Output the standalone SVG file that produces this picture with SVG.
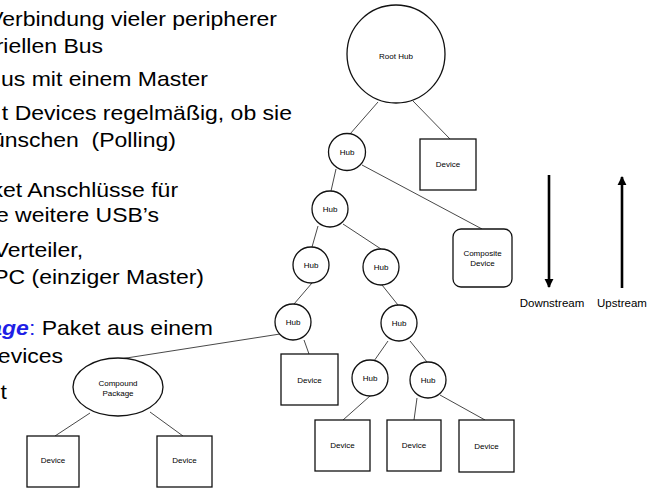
<svg xmlns="http://www.w3.org/2000/svg" width="664" height="488" viewBox="0 0 664 488">
<defs>
<style>
.bt{font-family:"Liberation Sans",Arial,sans-serif;font-size:20px;fill:#000;text-anchor:end}
.bl{fill:#1f1fe6;font-weight:bold;font-style:italic}
.n{fill:#fff;stroke:#111;stroke-width:1.3}
.lb{font-family:"Liberation Sans",Arial,sans-serif;font-size:8px;fill:#000;text-anchor:middle}
.c line{stroke:#333;stroke-width:0.9}
.ar{stroke:#000;stroke-width:2.6}
.al{font-family:"Liberation Sans",Arial,sans-serif;font-size:11.5px;fill:#000;text-anchor:middle}
</style>
<marker id="ah" viewBox="0 0 10 10" refX="9" refY="5" markerWidth="3.4" markerHeight="3.6" orient="auto" markerUnits="strokeWidth">
<path d="M0,0 L10,5 L0,10 Z" fill="#000"/>
</marker>
</defs>
<rect width="664" height="488" fill="#fff"/>
<g id="bullets" transform="scale(1.15,1)">
<text class="bt" x="240.9" y="26">Verbindung vieler peripherer</text>
<text class="bt" x="89.6" y="53">riellen Bus</text>
<text class="bt" x="180.9" y="86">us mit einem Master</text>
<text class="bt" x="253.9" y="120">t Devices regelmäßig, ob sie</text>
<text class="bt" x="153" y="147" xml:space="preserve">ünschen  (Polling)</text>
<text class="bt" x="154.8" y="197">ket Anschlüsse für</text>
<text class="bt" x="138.3" y="222">e weitere USB’s</text>
<text class="bt" x="72.2" y="257">Verteiler,</text>
<text class="bt" x="177.4" y="284">PC (einziger Master)</text>
<text class="bt" x="185.2" y="335"><tspan class="bl">age</tspan><tspan fill="#1f1fe6">:</tspan> Paket aus einem</text>
<text class="bt" x="54.8" y="363">evices</text>
<text class="bt" x="6.1" y="399">t</text>
</g>
<g id="connectors" class="c">
<line x1="378" y1="102" x2="350" y2="134"/>
<line x1="413" y1="101" x2="450" y2="139"/>
<line x1="336" y1="169" x2="331" y2="191"/>
<line x1="362" y1="165" x2="482" y2="229"/>
<line x1="318" y1="226" x2="312" y2="247"/>
<line x1="343" y1="224" x2="381" y2="249"/>
<line x1="312" y1="283" x2="294" y2="304"/>
<line x1="382" y1="285" x2="398" y2="305"/>
<line x1="280" y1="334" x2="120" y2="359"/>
<line x1="304" y1="340" x2="309" y2="354"/>
<line x1="388" y1="341" x2="374" y2="361"/>
<line x1="410" y1="341" x2="427" y2="362"/>
<line x1="370" y1="396" x2="343" y2="420"/>
<line x1="417" y1="398" x2="414" y2="420"/>
<line x1="440" y1="395" x2="485" y2="420"/>
<line x1="90" y1="413" x2="55" y2="436"/>
<line x1="150" y1="412" x2="183" y2="436"/>
</g>
<g id="root"><circle class="n" cx="396" cy="54" r="49"/><text class="lb" x="396" y="59">Root Hub</text></g>
<g id="hub1"><circle class="n" cx="347" cy="152" r="18.5"/><text class="lb" x="347" y="155">Hub</text></g>
<g id="hub2"><circle class="n" cx="330" cy="209" r="18"/><text class="lb" x="330" y="212">Hub</text></g>
<g id="hub3"><circle class="n" cx="311" cy="265" r="18"/><text class="lb" x="311" y="268">Hub</text></g>
<g id="hub4"><circle class="n" cx="381" cy="267" r="18"/><text class="lb" x="381" y="270">Hub</text></g>
<g id="hub5"><circle class="n" cx="293" cy="322" r="18"/><text class="lb" x="293" y="325">Hub</text></g>
<g id="hub6"><circle class="n" cx="399" cy="323" r="18"/><text class="lb" x="399" y="326">Hub</text></g>
<g id="hub7"><circle class="n" cx="370" cy="378" r="18"/><text class="lb" x="370" y="381">Hub</text></g>
<g id="hub8"><circle class="n" cx="428" cy="380" r="18"/><text class="lb" x="428" y="383">Hub</text></g>
<g id="device1"><rect class="n" x="420" y="139" width="56" height="51"/><text class="lb" x="448" y="167">Device</text></g>
<g id="composite"><rect class="n" x="453" y="229" width="59" height="58" rx="8"/><text class="lb" x="482.5" y="256">Composite</text><text class="lb" x="482.5" y="266">Device</text></g>
<g id="device5"><rect class="n" x="281" y="354" width="57" height="51"/><text class="lb" x="309.5" y="383">Device</text></g>
<g id="deviceA"><rect class="n" x="315" y="420" width="55" height="51"/><text class="lb" x="342.5" y="448">Device</text></g>
<g id="deviceB"><rect class="n" x="387" y="420" width="54" height="51"/><text class="lb" x="414" y="448">Device</text></g>
<g id="deviceC"><rect class="n" x="459" y="420" width="55" height="52"/><text class="lb" x="486.5" y="449">Device</text></g>
<g id="compound"><ellipse class="n" cx="118" cy="387" rx="45" ry="29"/><text class="lb" x="118" y="386">Compound</text><text class="lb" x="118" y="396">Package</text></g>
<g id="deviceL"><rect class="n" x="27" y="436" width="52" height="51"/><text class="lb" x="53" y="463">Device</text></g>
<g id="deviceR"><rect class="n" x="157" y="436" width="55" height="51"/><text class="lb" x="184.5" y="463">Device</text></g>
<g id="downstream"><line class="ar" x1="549" y1="175" x2="549" y2="287" marker-end="url(#ah)"/><text class="al" x="552" y="307">Downstream</text></g>
<g id="upstream"><line class="ar" x1="622" y1="288" x2="622" y2="177" marker-end="url(#ah)"/><text class="al" x="622" y="307">Upstream</text></g>
</svg>
